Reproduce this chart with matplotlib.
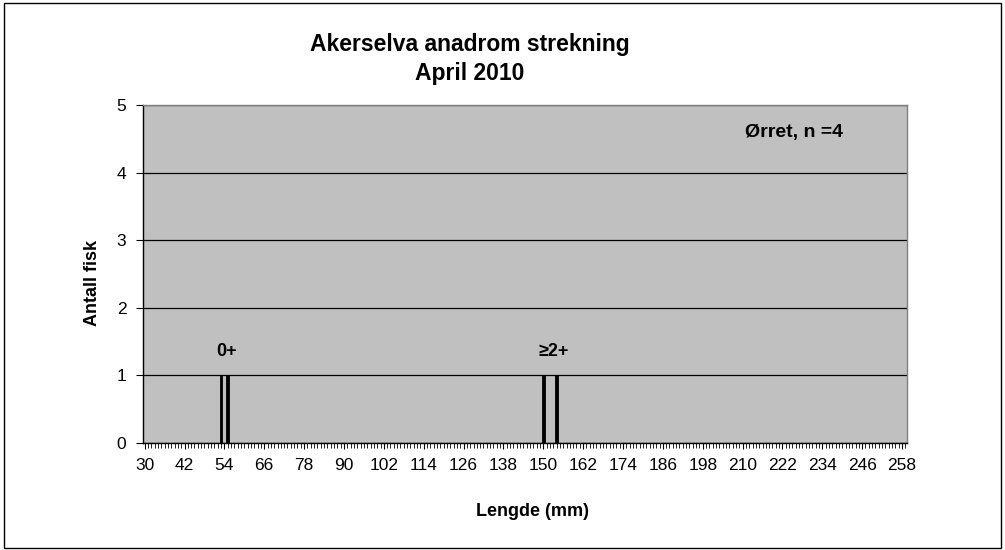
import matplotlib
matplotlib.use('Agg')
import matplotlib.pyplot as plt
from matplotlib.patches import Rectangle
from matplotlib.ticker import MultipleLocator

plt.rcParams['font.family'] = ['Liberation Sans', 'DejaVu Sans']

# lengths (mm) with fish counts, categories 30..259 mm
lengths = [53, 55, 150, 154]
counts = [1, 1, 1, 1]
first_len = 30
last_len = 259
tick_labels = list(range(30, 259, 12))

title = 'Akerselva anadrom strekning\nApril 2010'
species_text = 'Ørret, n =4'
age_labels = ['0+', '≥2+']
age_label_x = [54.8, 153.0]

W, H = 1005, 550
fig = plt.figure(figsize=(W / 100, H / 100), dpi=100)
fig.patch.set_facecolor('white')
fig.patches.append(Rectangle((0.004, 0.004), 0.992, 0.99, transform=fig.transFigure,
                             fill=False, edgecolor='black', linewidth=1))

ax = fig.add_axes([143 / W, 1 - 443 / H, 764 / W, 338 / H])
ax.set_facecolor('#C0C0C0')
ax.set_axisbelow(True)

ax.bar(lengths, counts, width=0.75, color='black', edgecolor='black',
       linewidth=0.6, zorder=3)

ax.set_xlim(first_len - 0.5, last_len + 0.5)
ax.set_ylim(0, 5)
ax.set_xticks(tick_labels)
ax.set_xticklabels([str(v) for v in tick_labels])
ax.xaxis.set_minor_locator(MultipleLocator(1))
ax.set_yticks(range(0, 6))
ax.yaxis.grid(True, color='black', linewidth=0.9)

ax.tick_params(axis='x', which='major', length=4, width=0.8, labelsize=12.5, pad=7, direction='out')
ax.tick_params(axis='x', which='minor', length=3.5, width=0.6, direction='out')
ax.tick_params(axis='y', length=5, width=0.8, labelsize=12.5, pad=7, direction='out')

for side in ['top', 'right']:
    ax.spines[side].set_color('#808080')
    ax.spines[side].set_linewidth(1)
for side in ['left', 'bottom']:
    ax.spines[side].set_color('black')
    ax.spines[side].set_linewidth(1)

fig.text(532 / W, 1 - 511 / H, 'Lengde (mm)', ha='center', va='center',
         fontsize=13, fontweight='bold')
fig.text(92 / W, 1 - 283 / H, 'Antall fisk', ha='center', va='center',
         fontsize=13, fontweight='bold', rotation=90)

fig.text(470 / W, 1 - 59 / H, title, ha='center', va='center',
         fontsize=16.5, fontweight='bold', linespacing=1.3)

for lbl, xv in zip(age_labels, age_label_x):
    ax.text(xv, 1.35, lbl, ha='center', va='center', fontsize=13, fontweight='bold')

ax.text(225.5, 4.6, species_text, ha='center', va='center', fontsize=14, fontweight='bold')

fig.savefig('out.png', dpi=100)
